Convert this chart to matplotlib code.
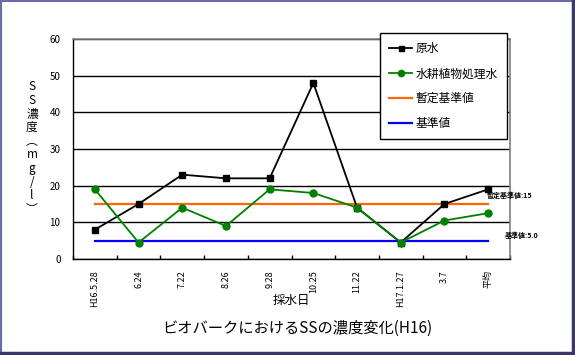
"""
ビオパーク SS濃度変化 (H16) グラフ
出力: out.png
"""

import numpy as np
import matplotlib
matplotlib.use('Agg')
import matplotlib.pyplot as plt
from matplotlib.lines import Line2D

plt.rcParams['font.family'] = ['Noto Sans CJK JP', 'DejaVu Sans']

# データ
dates = ['H16.5.28', '6.24', '7.22', '8.26', '9.28', '10.25', '11.22', 'H17.1.27', '3.7', '平均']
raw = [8, 15, 23, 22, 22, 48, 14, 4.5, 15, 19]             # 原水
treated = [19, 4.5, 14, 9, 19, 18, 14, 4.5, 10.5, 12.5]   # 水耕植物処理水
provisional = 15      # 暫定基準値
standard = 5.0        # 基準値


def main():
    W, H = 575, 355
    fig = plt.figure(figsize=(W / 100, H / 100), dpi=100)
    ax = fig.add_axes([73 / W, 1 - 259 / H, (510 - 73) / W, (259 - 39) / H])

    x = np.arange(len(dates))

    # 系列
    ax.plot(x, raw, '-s', color='black', linewidth=1.3, markersize=4, label='原水', zorder=4)
    ax.plot(x, treated, '-o', color='#008000', linewidth=1.3, markersize=5, label='水耕植物処理水', zorder=4)
    ax.plot(x, [provisional] * len(x), '-', color='#ff6600', linewidth=1.6, label='暫定基準値', zorder=3)
    ax.plot(x, [standard] * len(x), '-', color='#0000ff', linewidth=1.6, label='基準値', zorder=3)

    # 基準値ラベル
    ax.text(x[-1] - 0.03, provisional + 2.3, f'暫定基準値:{provisional:g}', fontsize=5,
            fontweight='bold', ha='left', va='center', clip_on=False, zorder=6)
    ax.text(x[-1] + 0.37, standard + 1.5, f'基準値:{standard:.1f}', fontsize=5,
            fontweight='bold', ha='left', va='center', clip_on=False, zorder=6)

    # 軸
    ax.set_xlim(-0.5, len(x) - 0.5)
    ax.set_ylim(0, 60)
    ax.set_yticks(range(0, 61, 10))
    ax.yaxis.grid(True, color='black', linewidth=1)
    ax.set_axisbelow(True)
    ax.tick_params(axis='y', length=0, pad=9, labelsize=7)

    ax.set_xticks(x)
    ax.set_xticklabels(dates, rotation=90, fontsize=6.5, va='top')
    ax.tick_params(axis='x', which='major', length=0, pad=8)
    ax.set_xticks(np.arange(-0.5, len(x)), minor=True)
    ax.tick_params(axis='x', which='minor', direction='in', length=3, width=1)

    for s in ['left', 'bottom']:
        ax.spines[s].set_color('black')
        ax.spines[s].set_linewidth(1)
    for s in ['top', 'right']:
        ax.spines[s].set_color('#808080')
        ax.spines[s].set_linewidth(1.2)

    # 縦書きラベル
    fig.text(32 / W, 1 - 148 / H, 'S\nS\n濃\n度\n︵\nm\ng\n/\nl\n︶', fontsize=8.5,
             ha='center', va='center', linespacing=1.07)
    fig.text(291 / W, 1 - 300 / H, '採水日', fontsize=9, ha='center', va='center')
    fig.text(297 / W, 1 - 328 / H, 'ビオバークにおけるSSの濃度変化(H16)', fontsize=11,
             ha='center', va='center')

    # 凡例
    leg = ax.legend(loc='upper left', bbox_to_anchor=(380 / W, 1 - 33 / H),
                    bbox_transform=fig.transFigure, fontsize=8.5, frameon=True,
                    fancybox=False, framealpha=1, edgecolor='black',
                    handlelength=1.9, handletextpad=0.3, labelspacing=1.0,
                    borderpad=0.8, borderaxespad=0, markerscale=0.9)
    leg.get_frame().set_linewidth(1)
    leg.set_zorder(10)

    # 外枠
    fig.add_artist(Line2D([1 / W, 1 / W], [0, 1], color='#6a6aa8', linewidth=1.5))
    fig.add_artist(Line2D([0, 1], [1 - 1 / H, 1 - 1 / H], color='#6a6aa8', linewidth=1.5))
    fig.add_artist(Line2D([1 - 2 / W, 1 - 2 / W], [0, 1], color='#38386a', linewidth=2.5))
    fig.add_artist(Line2D([0, 1], [2 / H, 2 / H], color='#38386a', linewidth=2.5))

    fig.savefig('out.png', dpi=100)


if __name__ == "__main__":
    main()
